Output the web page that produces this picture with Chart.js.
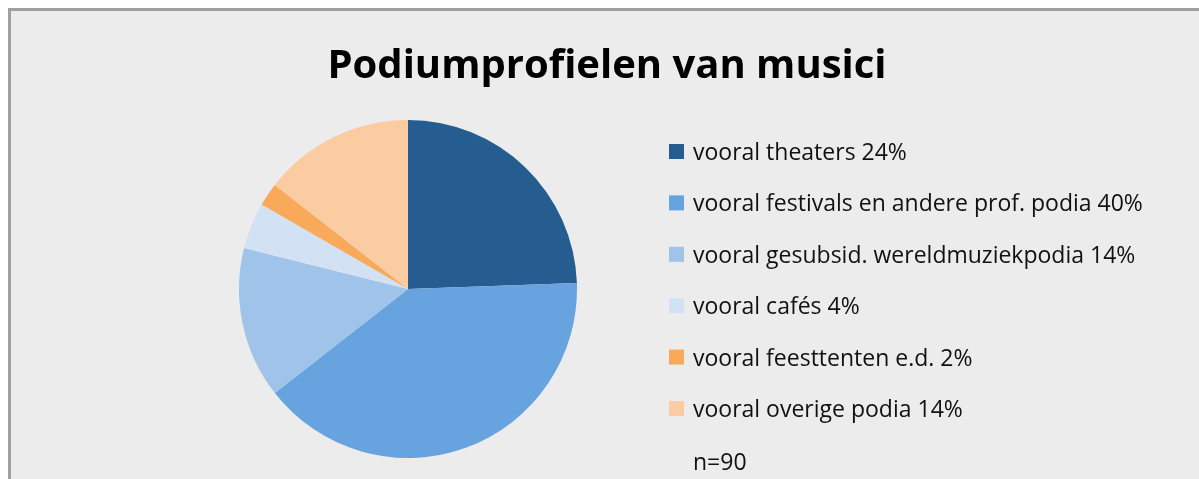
<!DOCTYPE html>
<html><head><meta charset="utf-8">
<script src="https://cdn.jsdelivr.net/npm/chart.js@4/dist/chart.umd.min.js"></script>
<style>
html,body{margin:0;padding:0;background:#fff;overflow:hidden;}
#frame{position:absolute;left:8px;top:8px;width:1300px;height:600px;background:#ececec;border-left:3px solid #a0a0a0;border-top:3px solid #a0a0a0;}
#wrap{position:absolute;left:0;top:0;width:1199px;height:479px;}
</style></head>
<body>
<div id="frame"></div>
<div id="wrap"><canvas id="c" width="1199" height="479"></canvas></div>
<script>
const titleText = "Podiumprofielen van musici";
const categories = ["vooral theaters 24%","vooral festivals en andere prof. podia 40%","vooral gesubsid. wereldmuziekpodia 14%","vooral cafés 4%","vooral feesttenten e.d. 2%","vooral overige podia 14%"];
const counts = [22, 36, 13, 4, 2, 13];
const colors = ["#265d91","#66a3df","#a0c3ea","#d2e2f4","#f9a95a","#fbcba2"];
const noteText = "n=90";

const overlay = {
  id:'overlay',
  afterDraw(chart){
    const ctx = chart.ctx;
    ctx.save();
    ctx.fillStyle = '#000';
    ctx.font = 'bold 40px "Open Sans"';
    ctx.textAlign = 'center';
    ctx.textBaseline = 'alphabetic';
    ctx.fillText(titleText, 607, 78);
    ctx.textAlign = 'left';
    ctx.font = '23px "Open Sans"';
    const labels = chart.data.labels;
    const bg = chart.data.datasets[0].backgroundColor;
    for (let i=0;i<labels.length;i++){
      const y = 152 + i*51.4;
      ctx.fillStyle = bg[i];
      ctx.fillRect(669, y-8, 15, 15);
      ctx.fillStyle = '#111';
      ctx.fillText(labels[i], 693, y+8);
    }
    ctx.fillText(noteText, 693, 470);
    ctx.restore();
  }
};

new Chart(document.getElementById('c'), {
  type:'pie',
  data:{labels:categories, datasets:[{data:counts, backgroundColor:colors, borderWidth:0}]},
  options:{
    responsive:false, animation:false,
    layout:{padding:{left:239,right:622,top:120,bottom:21}},
    plugins:{legend:{display:false}, title:{display:false}, tooltip:{enabled:false}}
  },
  plugins:[overlay]
});
</script>
</body></html>
